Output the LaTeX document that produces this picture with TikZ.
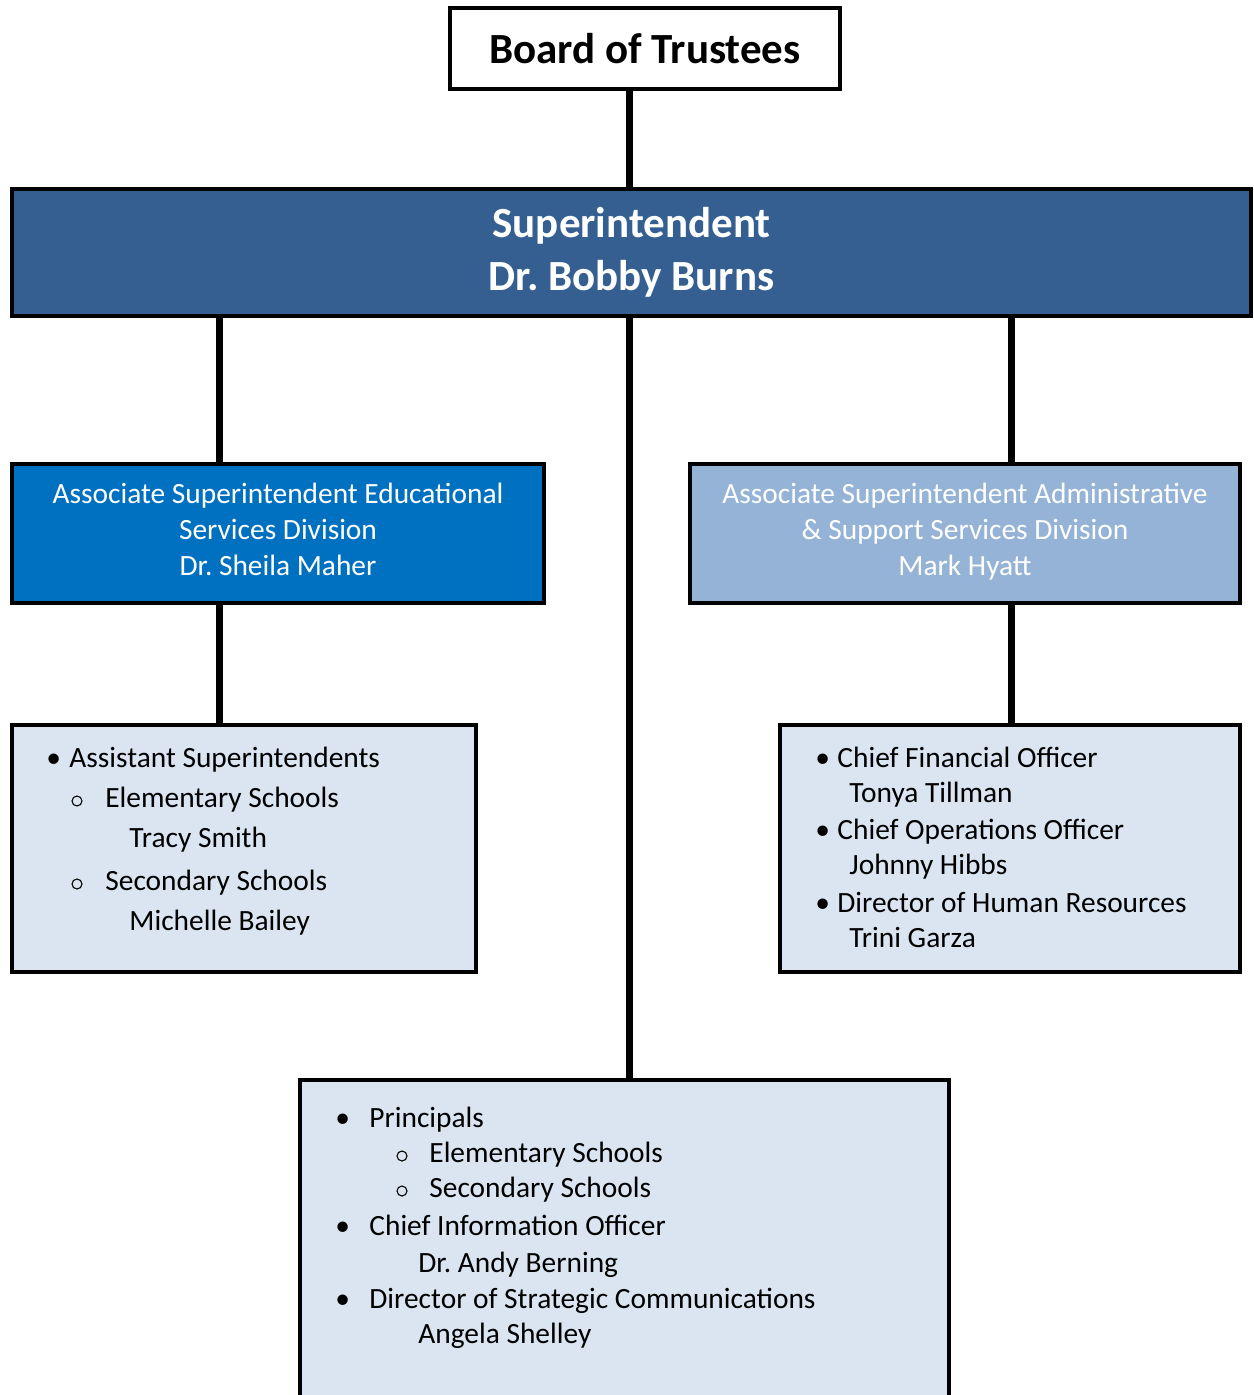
\documentclass[tikz,border=0pt]{standalone}
\usepackage{fontspec}
\setmainfont{Carlito}
\usetikzlibrary{positioning}
\definecolor{superblue}{HTML}{365F91}
\definecolor{edublue}{HTML}{0070C0}
\definecolor{admblue}{HTML}{95B3D7}
\definecolor{listblue}{HTML}{DBE5F1}
\frenchspacing
\tikzset{
  box/.style={rectangle, draw=black, line width=2pt, inner sep=0pt, align=center},
  boxtext/.style={inner sep=0pt, align=center, text=white, font=\fontsize{14.7pt}{18pt}\selectfont},
  conn/.style={line width=3.5pt},
  item/.style={anchor=base west, inner sep=0pt, font=\fontsize{14.7pt}{17pt}\selectfont},
  ring/.style={circle, draw=black, line width=0.55pt, minimum size=5pt, inner sep=0pt},
}
\begin{document}
\begin{tikzpicture}[x=0.5pt, y=-0.5pt]
\useasboundingbox (0,0) rectangle (1253,1395);
\clip (0,0) rectangle (1253,1395);
\coordinate (ltrunk) at (219,0);
\coordinate (mtrunk) at (629,0);
\coordinate (rtrunk) at (1011,0);

\node[box, fill=white, minimum width=195pt, minimum height=40.5pt,
  font=\fontsize{21.5pt}{26pt}\selectfont\bfseries] (board) at (645,48.5) {Board of Trustees};
\node[box, fill=superblue, text=white, minimum width=619.5pt, minimum height=63.5pt,
  font=\fontsize{21.5pt}{26.5pt}\selectfont\bfseries] (super) at (631.5,252.5) {Superintendent\\Dr. Bobby Burns};
\node[box, fill=edublue, minimum width=266pt, minimum height=69.5pt] (edu) at (278,533.5) {};
\node[box, fill=admblue, minimum width=275pt, minimum height=69.5pt] (adm) at (965,533.5) {};
\node[boxtext] (edutext) at (278,535)
  {Associate Superintendent Educational\\Services Division\\Dr. Sheila Maher\strut};
\node[boxtext] (admtext) at (965,535)
  {Associate Superintendent Administrative\\\& Support Services Division\\Mark Hyatt\strut};
\node[box, fill=listblue, minimum width=232pt, minimum height=123.5pt] (asst) at (244,848.5) {};
\node[box, fill=listblue, minimum width=230pt, minimum height=123.5pt] (chief) at (1010,848.5) {};
\node[box, fill=listblue, minimum width=324.5pt, minimum height=180pt] (prin) at (624.5,1260) {};

\draw[conn] (board.south -| mtrunk) -- (super.north -| mtrunk);
\draw[conn] (super.south -| ltrunk) -- (edu.north -| ltrunk);
\draw[conn] (edu.south -| ltrunk) -- (asst.north -| ltrunk);
\draw[conn] (super.south -| rtrunk) -- (adm.north -| rtrunk);
\draw[conn] (adm.south -| rtrunk) -- (chief.north -| rtrunk);
\draw[conn] (super.south -| mtrunk) -- (prin.north -| mtrunk);

% bullets and rings
\foreach \x/\y [count=\i] in {46/767, 815/767, 815/839, 815/912, 335/1127, 335/1235, 335/1308}
  \node[item] (dot\i) at (\x,\y) {\textbullet};
\foreach \x/\y [count=\i] in {77/801, 77/884, 402/1156, 402/1191}
  \node[ring] (ring\i) at (\x,\y) {};

% list lines
\foreach \x/\y/\t [count=\i] in {69/767/Assistant Superintendents, 105/807/Elementary Schools,
    129/847/Tracy Smith, 105/890/Secondary Schools, 129/930/Michelle Bailey}
  \node[item] (asst\i) at (\x,\y) {\t};
\foreach \x/\y/\t [count=\i] in {837/767/Chief Financial Officer, 849/802/Tonya Tillman,
    837/839/Chief Operations Officer, 849/874/Johnny Hibbs,
    837/912/Director of Human Resources, 849/947/Trini Garza}
  \node[item] (chief\i) at (\x,\y) {\t};
\foreach \x/\y/\t [count=\i] in {369/1127/Principals, 429/1162/Elementary Schools,
    429/1197/Secondary Schools, 369/1235/Chief Information Officer,
    418/1272/Dr. Andy Berning, 369/1308/Director of Strategic Communications,
    418/1343/Angela Shelley}
  \node[item] (prin\i) at (\x,\y) {\t};
\end{tikzpicture}
\end{document}
